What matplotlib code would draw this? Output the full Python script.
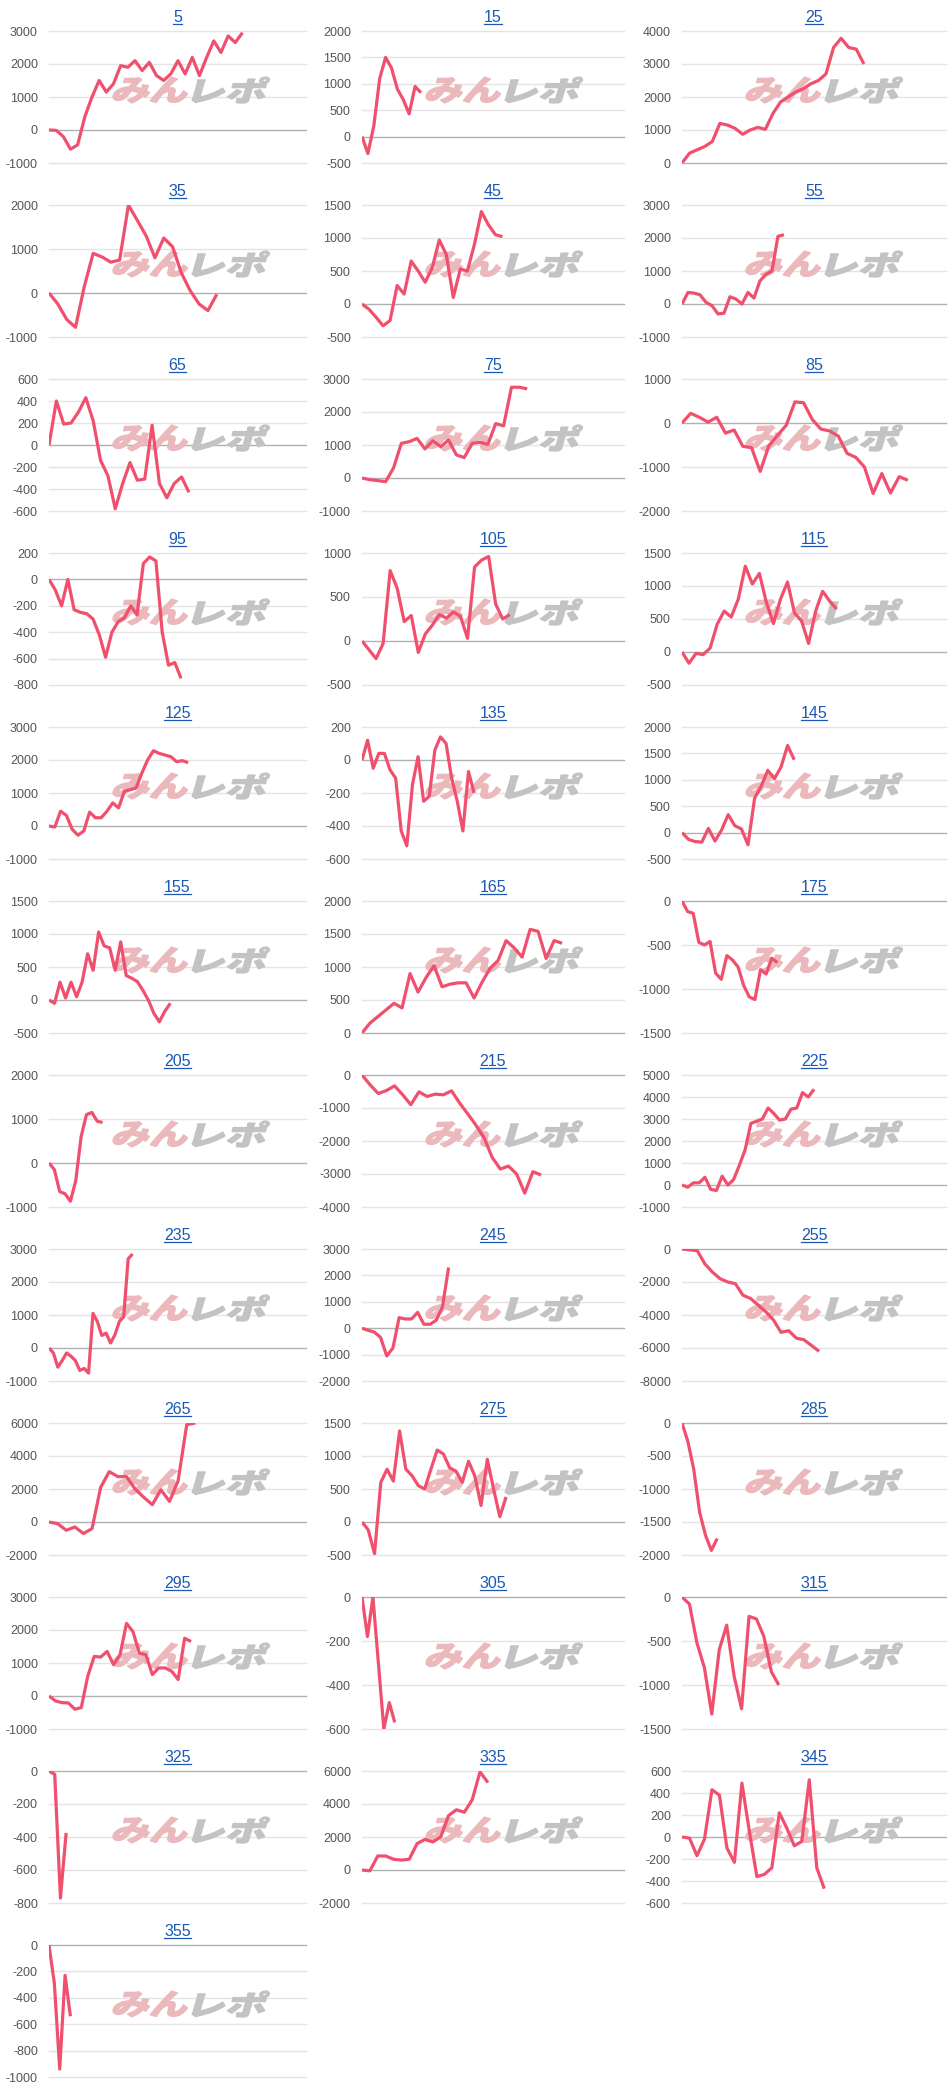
from __future__ import annotations

import matplotlib

matplotlib.use("Agg")
import matplotlib.pyplot as plt
import matplotlib.transforms as mtransforms
import numpy as np
from matplotlib.font_manager import FontProperties
from matplotlib.lines import Line2D
from matplotlib.patches import PathPatch
from matplotlib.textpath import TextPath

titles = ["5", "15", "25", "35", "45", "55", "65", "75", "85", "95", "105", "115",
          "125", "135", "145", "155", "165", "175", "205", "215", "225", "235", "245",
          "255", "265", "275", "285", "295", "305", "315", "325", "335", "345", "355"]

s5 = [0, -10, -200, -580, -450, 400, 1000, 1500, 1150, 1400, 1950, 1900, 2100, 1800, 2050,
      1650, 1500, 1700, 2100, 1700, 2200, 1650, 2200, 2700, 2350, 2850, 2650, 2950]
s15 = [0, -320, 200, 1100, 1500, 1300, 900, 700, 430, 950, 830]
s25 = [0, 300, 400, 500, 650, 1200, 1150, 1050, 870, 1000, 1080, 1020, 1500, 1850, 2000,
       2150, 2250, 2400, 2500, 2700, 3500, 3780, 3500, 3450, 3000]
s35 = [0, -250, -600, -780, 150, 900, 820, 700, 750, 2000, 1650, 1300, 800, 1250, 1050,
       450, 50, -250, -400, -30]
s45 = [0, -80, -200, -330, -250, 280, 150, 650, 500, 330, 550, 970, 750, 100, 530, 500,
       900, 1400, 1200, 1050, 1020]
s55 = [0, 350, 330, 280, 50, -50, -300, -280, 220, 150, 0, 350, 180, 700, 900, 1000, 2050, 2100]
s65 = [0, 400, 190, 200, 300, 430, 220, -140, -280, -580, -350, -160, -320, -310, 180,
       -350, -480, -350, -290, -430]
s75 = [0, -50, -80, -110, 300, 1050, 1100, 1200, 880, 1130, 950, 1150, 700, 620, 1050,
       1080, 1020, 1650, 1580, 2750, 2750, 2700]
s85 = [0, 220, 130, 20, 130, -230, -160, -530, -560, -1100, -520, -280, -50, 480, 460, 80,
       -140, -180, -300, -690, -780, -1000, -1600, -1150, -1590, -1220, -1300]
s95 = [0, -80, -200, 0, -230, -250, -260, -300, -420, -590, -400, -320, -290, -200, -270,
       120, 170, 140, -400, -650, -630, -750]
s105 = [0, -100, -200, -30, 800, 600, 220, 290, -130, 80, 180, 300, 260, 330, 280, 30,
        840, 920, 960, 420, 250, 300]
s115 = [0, -170, -20, -40, 60, 420, 620, 530, 800, 1300, 1030, 1190, 750, 430, 800, 1060,
        590, 470, 130, 620, 920, 770, 650]
s125 = [0, -30, 450, 320, -100, -280, -150, 420, 250, 250, 450, 700, 550, 1050, 1100, 1150,
        1600, 2000, 2280, 2200, 2150, 2100, 1950, 1980, 1920]
s135 = [0, 120, -50, 40, 40, -60, -110, -430, -520, -150, 20, -250, -220, 60, 140, 100,
        -110, -250, -430, -70, -200]
s145 = [0, -130, -170, -180, 80, -160, 50, 340, 130, 70, -230, 650, 880, 1180, 1020, 1240,
        1650, 1380]
s155 = [0, -50, 270, 30, 270, 50, 270, 700, 450, 1030, 820, 790, 450, 880, 370, 330, 280,
        150, 0, -200, -330, -170, -50]
s165 = [0, 150, 250, 350, 450, 380, 900, 620, 840, 1020, 700, 740, 760, 760, 530, 770, 980,
        1100, 1400, 1290, 1150, 1570, 1540, 1130, 1400, 1360]
s175 = [0, -120, -140, -470, -500, -460, -820, -890, -620, -670, -750, -960, -1090, -1120,
        -780, -830, -650, -700]
s205 = [0, -150, -650, -700, -870, -400, 600, 1100, 1150, 950, 920]
s215 = [0, -300, -560, -470, -330, -600, -900, -510, -650, -580, -600, -480, -850, -1180,
        -1520, -1900, -2500, -2850, -2760, -3000, -3580, -2930, -3030]
s225 = [0, -100, 100, 100, 350, -200, -250, 400, 0, 250, 900, 1600, 2800, 2900, 3000, 3500,
        3250, 2950, 3000, 3450, 3500, 4200, 4000, 4350]
s235 = [0, -150, -580, -380, -150, -250, -380, -680, -620, -760, 1050, 800, 380, 450, 150,
        400, 800, 950, 2700, 2850]
s245 = [0, -80, -150, -350, -1050, -750, 400, 350, 350, 600, 150, 150, 300, 800, 2300]
s255 = [0, -50, -100, -900, -1400, -1800, -2000, -2100, -2800, -3000, -3400, -3800, -4300,
        -5050, -4950, -5400, -5500, -5850, -6200]
s265 = [0, -100, -500, -300, -700, -400, 2100, 3050, 2750, 2750, 2000, 1500, 1050, 1950,
        1250, 2500, 5900, 6000]
s275 = [0, -120, -480, 600, 800, 620, 1380, 800, 700, 550, 500, 800, 1090, 1030, 820, 770,
        600, 920, 700, 250, 950, 500, 80, 380]
s285 = [0, -280, -700, -1350, -1700, -1930, -1750]
s295 = [0, -150, -200, -210, -400, -350, 600, 1200, 1180, 1350, 950, 1250, 2200, 1950, 1300,
        1250, 650, 850, 850, 750, 500, 1750, 1650]
s305 = [0, -180, 0, -300, -600, -480, -570]
s315 = [0, -80, -520, -800, -1330, -600, -320, -900, -1270, -220, -250, -450, -850, -1000]
s325 = [0, -20, -770, -375]
s335 = [0, -50, 850, 850, 650, 600, 650, 1600, 1850, 1700, 2000, 3300, 3650, 3500, 4250,
        5950, 5300]
s345 = [0, -10, -170, -20, 430, 380, -100, -230, 490, 50, -360, -340, -280, 220, 80, -80,
        -40, 520, -280, -470]
s355 = [0, -290, -940, -230, -540]

series = [s5, s15, s25, s35, s45, s55, s65, s75, s85, s95, s105, s115, s125, s135, s145,
          s155, s165, s175, s205, s215, s225, s235, s245, s255, s265, s275, s285, s295,
          s305, s315, s325, s335, s345, s355]

# where the last point of each series sits on the shared horizontal axis (0..36)
x_end = [27.1, 8.1, 24.8, 23.5, 19.3, 13.9, 19.6, 22.7, 30.8, 18.5, 20.3, 21.1, 19.5, 15.4,
         15.3, 17.0, 27.5, 13.0, 7.5, 24.6, 18.0, 11.7, 11.9, 18.7, 20.5, 19.8, 4.8, 19.9,
         4.5, 13.2, 2.4, 17.3, 19.4, 3.0]
X_MAX = 36

y_min = [-1000, -500, 0, -1000, -500, -1000, -600, -1000, -2000, -800, -500, -500, -1000,
         -600, -500, -500, 0, -1500, -1000, -4000, -1000, -1000, -2000, -8000, -2000, -500,
         -2000, -1000, -600, -1500, -800, -2000, -600, -1000]
y_max = [3000, 2000, 4000, 2000, 1500, 3000, 600, 3000, 1000, 200, 1000, 1500, 3000, 200,
         2000, 1500, 2000, 0, 2000, 0, 5000, 3000, 3000, 0, 6000, 1500, 0, 3000, 0, 0, 0,
         6000, 600, 0]
y_step = [1000, 500, 1000, 1000, 500, 1000, 200, 1000, 1000, 200, 500, 500, 1000, 200, 500,
          500, 500, 500, 1000, 1000, 1000, 1000, 1000, 2000, 2000, 500, 500, 1000, 200, 500,
          200, 2000, 200, 200]

# layout in pixels of the 951x2088 canvas
FIG_W, FIG_H = 951, 2088
COL_X = [49, 362, 682]
COL_W = [257, 262, 264]
ROW_TOP = 31
ROW_PITCH = 174
PLOT_H = 132
TITLE_RISE = 9.5

LINE_COLOR = "#f0506e"
TITLE_COLOR = "#1a58b4"
GRID_COLOR = "#e4e4e4"
BASE_COLOR = "#b0b0b0"

plt.rcParams["font.family"] = ["Liberation Sans", "DejaVu Sans"]

wm_font = FontProperties(family=["Noto Sans CJK JP"], weight="black")


def add_watermark(ax, text: str, color: str, x0: float, x1: float, y0: float, y1: float) -> None:
    """Draw skewed logo text between pixel offsets measured from the axes' lower left."""
    path = TextPath((0, 0), text, size=1, prop=wm_font)
    ext = path.get_extents()
    trans = (
        mtransforms.Affine2D()
        .translate(-ext.x0, -ext.y0)
        .scale((x1 - x0) / ext.width, (y1 - y0) / ext.height)
        .skew_deg(16, 0)
        .translate(x0, y0)
        + mtransforms.ScaledTranslation(0, 0, ax.transAxes)
    )
    patch = PathPatch(path, facecolor=color, edgecolor=color, lw=0.9,
                      transform=trans, zorder=1.5)
    patch.set_clip_on(False)
    ax.add_artist(patch)


fig = plt.figure(figsize=(FIG_W / 100, FIG_H / 100), dpi=100)
title_texts = []

for idx, (title, values) in enumerate(zip(titles, series)):
    row, col = divmod(idx, 3)
    left = COL_X[col] / FIG_W
    width = COL_W[col] / FIG_W
    bottom = 1 - (ROW_TOP + row * ROW_PITCH + PLOT_H) / FIG_H
    height = PLOT_H / FIG_H
    ax = fig.add_axes([left, bottom, width, height])

    ticks = np.arange(y_min[idx], y_max[idx] + y_step[idx], y_step[idx])
    for t in ticks:
        ax.axhline(t, color=BASE_COLOR if t == 0 else GRID_COLOR, lw=1.0, zorder=1,
                   clip_on=False)

    x = np.linspace(0, x_end[idx], len(values))
    ax.plot(x, values, color=LINE_COLOR, lw=2.3, solid_joinstyle="round",
            solid_capstyle="butt", zorder=3)

    ax.set_xlim(0, X_MAX)
    ax.set_ylim(y_min[idx], y_max[idx])
    ax.set_yticks(ticks)
    ax.set_yticklabels([f"{int(t)}" for t in ticks])
    ax.set_xticks([])
    ax.tick_params(axis="y", length=0, pad=8, labelsize=9, labelcolor="#555555")
    for spine in ax.spines.values():
        spine.set_visible(False)
    ax.patch.set_alpha(0)

    add_watermark(ax, "みん", "#ebb8bc", 62, 136, 60, 86)
    add_watermark(ax, "レポ", "#c3c3c3", 142, 214, 60, 86)

    t = ax.text(0.5, 1 + TITLE_RISE / PLOT_H, title, transform=ax.transAxes, ha="center",
                va="baseline", color=TITLE_COLOR, fontsize=11.5)
    title_texts.append((ax, t))

fig.canvas.draw()
renderer = fig.canvas.get_renderer()
for ax, t in title_texts:
    bb = t.get_window_extent(renderer)
    cx, base_y = ax.transAxes.transform((0.5, 1 + TITLE_RISE / PLOT_H))
    half = bb.width / 2
    uy = (base_y - 2) / FIG_H
    fig.add_artist(Line2D([(cx - half) / FIG_W, (cx + half) / FIG_W], [uy, uy],
                          transform=fig.transFigure, color=TITLE_COLOR, lw=0.9))

fig.savefig("out.png", dpi=100)
plt.close(fig)
